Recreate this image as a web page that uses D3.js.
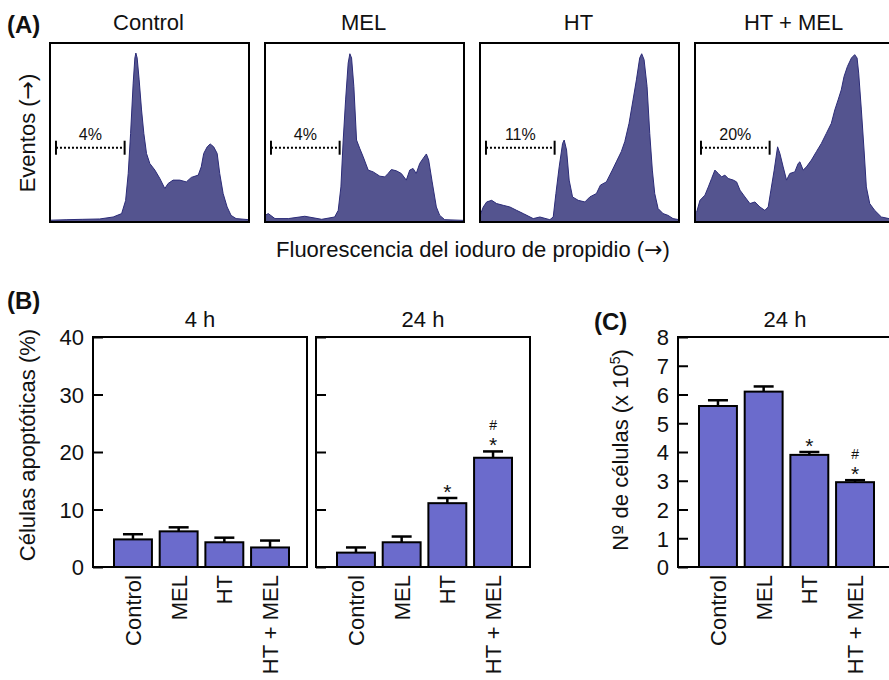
<!DOCTYPE html>
<html lang="es">
<head>
<meta charset="UTF-8">
<title>Apoptosis</title>
<style>
  body { margin: 0; background: #fff; }
  text { font-family: "Liberation Sans", Arial, sans-serif; fill: #111; }
</style>
</head>
<body>
<svg id="chart" width="889" height="680"></svg>
<script src="https://d3js.org/d3.v7.min.js"></script>
<script>
// grupos
const GRUPOS = ["Control", "MEL", "HT", "HT + MEL"];

// histogramas (canal 0-200, eventos 0-100)
const histControl = [[0,1],[17,1.3],[33,1.5],[50,1.7],[63.5,2.8],[72,4.7],[76,12],[78.6,27],[81,49.5],[83.6,77.6],[85.3,91.6],[86.3,94.4],[87.6,91.6],[89.6,79.4],[92,62.6],[94.3,49.5],[97,38.3],[100.3,32.7],[105.4,29],[110.4,24.3],[115.4,18.7],[118.7,21.5],[123.7,23.4],[130.4,23.4],[137,22.4],[142,24.9],[149,26.2],[152,30.8],[154.5,38.3],[158,42],[161,43.6],[164.5,42],[168,38.3],[170.6,27],[174,15.9],[178,8.4],[182,3.7],[187,1.9],[200,1.3]];
const histMel = [[0,3.7],[3.3,4.7],[10,1.9],[23.4,1.9],[40,3.2],[57,1.5],[70,2.8],[73.6,6.5],[76.3,19.6],[78.6,45.8],[81,68.2],[83.6,88.8],[85.3,94],[87,91.6],[89.3,75.7],[92,45.8],[95.3,41],[98.7,36.4],[103.7,29],[108.7,28],[115.4,25.6],[120.4,25.2],[123.7,27.1],[127,29.3],[132,28.6],[137,27.1],[142,23.4],[145.5,29],[148.8,29.9],[152,27.1],[155.5,32.7],[158.9,35.5],[162.2,38],[164.5,34.6],[168,22.4],[172.2,8.4],[175.6,3.7],[180.6,1.3],[200,0.9]];
const histHt = [[0,3.7],[3.3,8.4],[6.7,11.2],[11.7,12.1],[16.7,10.3],[23.4,9.3],[30,8.4],[36.8,6.5],[43.5,4.7],[53.5,1.9],[60.2,2.8],[70.2,1.3],[73.6,2.8],[76.3,15.9],[79.6,30.8],[83,43.9],[84.6,45.8],[87,40.2],[89.6,23.4],[93,14],[98.7,12.1],[105.4,11.2],[110.4,14],[117,15.9],[121,20.6],[127,22.4],[133,29],[137,33.6],[142,39.3],[145.5,44.9],[149.8,55.1],[153.8,68.2],[157.2,79.4],[160.5,91.6],[162.5,94],[164.9,90.7],[167.9,75.7],[170.6,49.5],[173.2,29],[175.6,15.9],[179,7.5],[184,4.7],[189,3.7],[194,1.9],[200,1.3]];
const histHtMel = [[0,4.7],[1.7,5.6],[5,12.1],[10,15],[13.4,19.6],[16.7,24.3],[20,29],[23.4,27.1],[26.8,25.2],[30,26.2],[33.4,24.3],[38.5,23.4],[41.8,22.4],[45.2,17.8],[50.2,14],[55.2,10.3],[60.2,11.2],[65.2,8.4],[70.2,6.5],[73.6,8.4],[76.3,17.8],[79.6,29],[83,42],[85.3,38.3],[88.6,30.8],[92,23.4],[95.3,27.1],[100.3,28],[103.7,32.7],[105.4,33.6],[108.7,29],[112,30.8],[117,34.6],[122,39.3],[127,43.9],[132,49.5],[137,55.1],[140.5,62.6],[143.8,68.2],[147,73.8],[149.8,81.3],[153.2,86.9],[157.2,91.6],[160.5,93.5],[162.9,91.6],[164.5,83.2],[167.2,62.6],[169.9,40.2],[172.2,19.6],[175.6,10.3],[180.6,6.5],[187.3,2.8],[200,1.3]];
const porcentajes = ["4%", "4%", "11%", "20%"];
const rangoSubG1 = [6, 75];   // canales del marcador sub-G1
const nivelSubG1 = 41.5;

// (B) celulas apoptoticas (%)
const apop4h = [4.8, 6.2, 4.3, 3.4];
const apop4hErr = [0.9, 0.7, 0.8, 1.2];
const apop24h = [2.5, 4.3, 11.1, 19.0];
const apop24hErr = [0.9, 1.0, 0.9, 1.1];
const marcasApop24h = ["", "", "*", "*"];
const hashApop24h = ["", "", "", "#"];
const ticksApop = [0, 10, 20, 30, 40];

// (C) numero de celulas (x 10^5)
const celulas24h = [5.6, 6.1, 3.9, 2.95];
const celulas24hErr = [0.2, 0.18, 0.1, 0.07];
const marcasCel24h = ["", "", "*", "*"];
const hashCel24h = ["", "", "", "#"];
const ticksCel = [0, 1, 2, 3, 4, 5, 6, 7, 8];

const svg = d3.select("#chart");
svg.append("rect").attr("width", 889).attr("height", 680).attr("fill", "#fff");

const HIST_FILL = "#54548f";
const HIST_LINE = "#2c2c78";
const BAR_FILL = "#6b6bcc";
const FS = 22;

// texto con flecha (la flecha en DejaVu, mas ancha)
function textoFlecha(sel, antes) {
  sel.append("tspan").text(antes + "(");
  sel.append("tspan").attr("font-family", '"DejaVu Sans", sans-serif').text("\u2192");
  sel.append("tspan").text(")");
}

// ---------- (A) histogramas ----------
const hists = [histControl, histMel, histHt, histHtMel];
const HA = { y: 43, w: 199, h: 179 };
const xsA = [50, 265, 480, 695];

svg.append("text").attr("x", 7).attr("y", 33)
  .attr("font-size", 24).attr("font-weight", "bold").text("(A)");

hists.forEach((data, i) => {
  const x0 = xsA[i];
  const x = d3.scaleLinear().domain([0, 200]).range([x0, x0 + HA.w]);
  const y = d3.scaleLinear().domain([0, 100]).range([HA.y + HA.h, HA.y]);
  const g = svg.append("g");

  g.append("path").datum(data)
    .attr("d", d3.area().x(d => x(d[0])).y0(y(0)).y1(d => y(d[1])))
    .attr("fill", HIST_FILL);
  g.append("path").datum(data)
    .attr("d", d3.line().x(d => x(d[0])).y(d => y(d[1])))
    .attr("fill", "none").attr("stroke", HIST_LINE).attr("stroke-width", 1);

  g.append("rect").attr("x", x0).attr("y", HA.y)
    .attr("width", HA.w).attr("height", HA.h)
    .attr("fill", "none").attr("stroke", "#000").attr("stroke-width", 2);

  // marcador sub-G1
  const by = y(nivelSubG1);
  const bx1 = x(rangoSubG1[0]), bx2 = x(rangoSubG1[1]);
  g.append("line").attr("x1", bx1).attr("x2", bx2).attr("y1", by).attr("y2", by)
    .attr("stroke", "#000").attr("stroke-width", 2).attr("stroke-dasharray", "2,2");
  [bx1, bx2].forEach(bx => g.append("line")
    .attr("x1", bx).attr("x2", bx).attr("y1", by - 7).attr("y2", by + 7)
    .attr("stroke", "#000").attr("stroke-width", 2));
  g.append("text").attr("x", (bx1 + bx2) / 2).attr("y", by - 8)
    .attr("text-anchor", "middle").attr("font-size", 16).text(porcentajes[i]);

  svg.append("text").attr("x", x0 + HA.w / 2 - 1).attr("y", 30)
    .attr("text-anchor", "middle").attr("font-size", FS).text(GRUPOS[i]);
});

svg.append("text").attr("transform", "translate(35,133) rotate(-90)")
  .attr("text-anchor", "middle").attr("font-size", FS)
  .call(textoFlecha, "Eventos ");
svg.append("text").attr("x", 473).attr("y", 257)
  .attr("text-anchor", "middle").attr("font-size", FS)
  .call(textoFlecha, "Fluorescencia del ioduro de propidio ");

// ---------- barras ----------
const TOP = 337, BOT = 567, BW = 214;

function panelBarras(x0, yScale, ticks, valores, errores, estrellas, hashes, titulo, etiquetas) {
  const g = svg.append("g");
  const x = d3.scaleBand().domain(GRUPOS)
    .range([x0 + 21, x0 + BW - 18]).paddingInner(0.17).paddingOuter(0);

  // ticks hacia dentro
  const ax = g.append("g").attr("transform", `translate(${x0},0)`)
    .call(d3.axisRight(yScale).tickValues(ticks).tickSize(10).tickFormat(""));
  ax.select(".domain").remove();
  ax.selectAll("line").attr("stroke", "#000").attr("stroke-width", 2);

  if (etiquetas) {
    const al = g.append("g").attr("transform", `translate(${x0 - 6},0)`)
      .call(d3.axisLeft(yScale).tickValues(ticks).tickSize(0));
    al.select(".domain").remove();
    al.selectAll("text").attr("font-size", FS).attr("fill", "#111")
      .attr("font-family", '"Liberation Sans", Arial, sans-serif').attr("dy", "0.36em");
  }

  // barras
  GRUPOS.forEach((k, i) => {
    const cx = x(k) + x.bandwidth() / 2;
    const yTop = yScale(valores[i]);
    const yErr = yScale(valores[i] + errores[i]);
    g.append("line").attr("x1", cx).attr("x2", cx).attr("y1", yTop).attr("y2", yErr)
      .attr("stroke", "#000").attr("stroke-width", 2.5);
    g.append("line").attr("x1", cx - 10).attr("x2", cx + 10).attr("y1", yErr).attr("y2", yErr)
      .attr("stroke", "#000").attr("stroke-width", 2.5);
    g.append("rect").attr("x", x(k)).attr("y", yTop)
      .attr("width", x.bandwidth()).attr("height", yScale(0) - yTop)
      .attr("fill", BAR_FILL).attr("stroke", "#000").attr("stroke-width", 2);
    if (estrellas[i]) {
      g.append("text").attr("x", cx).attr("y", yErr + 1)
        .attr("text-anchor", "middle").attr("font-size", 21).text(estrellas[i]);
    }
    if (hashes[i]) {
      g.append("text").attr("x", cx).attr("y", yErr - 21)
        .attr("text-anchor", "middle").attr("font-size", 14).text(hashes[i]);
    }
    g.append("text")
      .attr("transform", `translate(${cx},${BOT + 8}) rotate(-90)`)
      .attr("text-anchor", "end").attr("dy", "0.36em")
      .attr("font-size", FS).text(k);
  });

  g.append("rect").attr("x", x0).attr("y", TOP).attr("width", BW).attr("height", BOT - TOP)
    .attr("fill", "none").attr("stroke", "#000").attr("stroke-width", 2);

  svg.append("text").attr("x", x0 + BW / 2).attr("y", TOP - 10)
    .attr("text-anchor", "middle").attr("font-size", FS).text(titulo);
}

// (B)
const yApop = d3.scaleLinear().domain([0, 40]).range([BOT, TOP]);
svg.append("text").attr("x", 7).attr("y", 309)
  .attr("font-size", 24).attr("font-weight", "bold").text("(B)");
panelBarras(93, yApop, ticksApop, apop4h, apop4hErr, ["", "", "", ""], ["", "", "", ""], "4 h", true);
panelBarras(316, yApop, ticksApop, apop24h, apop24hErr, marcasApop24h, hashApop24h, "24 h", false);
svg.append("text").attr("transform", "translate(35,445) rotate(-90)")
  .attr("text-anchor", "middle").attr("font-size", FS).text("Células apoptóticas (%)");

// (C)
const yCel = d3.scaleLinear().domain([0, 8]).range([BOT, TOP]);
svg.append("text").attr("x", 594).attr("y", 330)
  .attr("font-size", 24).attr("font-weight", "bold").text("(C)");
panelBarras(678, yCel, ticksCel, celulas24h, celulas24hErr, marcasCel24h, hashCel24h, "24 h", true);
const lblC = svg.append("text").attr("transform", "translate(628,450) rotate(-90)")
  .attr("text-anchor", "middle").attr("font-size", FS);
lblC.append("tspan").text("N");
lblC.append("tspan").attr("font-family", '"DejaVu Sans", sans-serif').text("º");
lblC.append("tspan").text(" de células (x 10");
lblC.append("tspan").attr("font-size", 14).attr("dy", -8).text("5");
lblC.append("tspan").attr("dy", 8).text(")");
</script>
</body>
</html>
